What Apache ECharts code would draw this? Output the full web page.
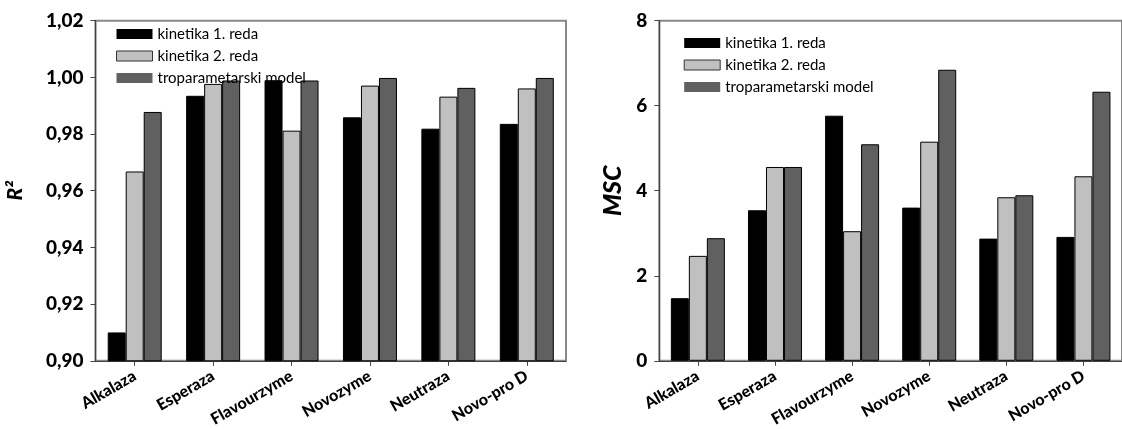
<!DOCTYPE html>
<html>
<head>
<meta charset="utf-8">
<style>
  html, body { margin: 0; padding: 0; background: #ffffff; }
  #chart { width: 1122px; height: 429px; }
</style>
<script src="https://cdn.jsdelivr.net/npm/echarts@6/dist/echarts.min.js"></script>
</head>
<body>
<div id="chart"></div>
<script>
// ---- data ----
const categories = ['Alkalaza', 'Esperaza', 'Flavourzyme', 'Novozyme', 'Neutraza', 'Novo-pro D'];
const seriesNames = ['kinetika 1. reda', 'kinetika 2. reda', 'troparametarski model'];

// R^2 values (left chart)
const r2First  = [0.910, 0.9935, 0.999, 0.9859, 0.9819, 0.9836];
const r2Second = [0.9668, 0.9977, 0.9812, 0.9971, 0.9932, 0.9961];
const r2Three  = [0.9878, 0.9989, 0.9989, 0.9998, 0.9963, 0.9998];

// MSC values (right chart)
const mscFirst  = [1.473, 3.541, 5.765, 3.603, 2.874, 2.914];
const mscSecond = [2.468, 4.559, 3.048, 5.154, 3.847, 4.340];
const mscThree  = [2.884, 4.559, 5.093, 6.846, 3.894, 6.329];

// y tick settings
const r2Min = 0.90, r2Max = 1.02, r2Step = 0.02;
const mscMin = 0, mscMax = 8, mscStep = 2;

// ---- styling ----
const colors = ['#000000', '#c0c0c0', '#606060'];
const FONT = 'Lato';

const chart = echarts.init(document.getElementById('chart'), null, { renderer: 'canvas' });

function xAxisFor(gi) {
  return {
    type: 'category',
    gridIndex: gi,
    data: categories,
    axisLine: { show: true, lineStyle: { color: '#444', width: 1.2 } },
    axisTick: { show: true, alignWithLabel: true, length: 5, lineStyle: { color: '#444' } },
    axisLabel: {
      rotate: 30, margin: 14, interval: 0,
      fontFamily: FONT, fontWeight: 900, fontSize: 16, color: '#000'
    },
    splitLine: { show: false }
  };
}

function yAxisFor(gi, min, max, step, name, nameGap, fmt, nameSize) {
  return {
    type: 'value',
    gridIndex: gi,
    min: min, max: max, interval: step,
    name: name,
    nameLocation: 'middle',
    nameGap: nameGap,
    nameRotate: 90,
    nameTextStyle: { fontFamily: FONT, fontWeight: 900, fontStyle: 'italic', fontSize: nameSize, color: '#000' },
    axisLine: { show: true, lineStyle: { color: '#444', width: 1.2 } },
    axisTick: { show: true, inside: false, length: 5, lineStyle: { color: '#444' } },
    axisLabel: {
      margin: 12,
      fontFamily: FONT, fontWeight: 900, fontSize: 19, color: '#000',
      formatter: fmt
    },
    splitLine: { show: false }
  };
}

function barSeries(name, data, idx, gi) {
  return {
    name: name,
    type: 'bar',
    xAxisIndex: gi,
    yAxisIndex: gi,
    data: data,
    barWidth: 18,
    barGap: '0%',
    itemStyle: { color: colors[idx], borderColor: '#000', borderWidth: 1 },
    emphasis: { disabled: true },
    animation: false
  };
}

function legendFor(left, top) {
  return {
    orient: 'vertical',
    left: left, top: top,
    itemWidth: 36, itemHeight: 10, itemGap: 6,
    icon: 'rect',
    textStyle: { fontFamily: FONT, fontSize: 15, color: '#000', lineHeight: 16 },
    data: [
      { name: seriesNames[0], itemStyle: { color: colors[0], borderWidth: 0 } },
      { name: seriesNames[1], itemStyle: { color: colors[1], borderColor: '#333', borderWidth: 1 } },
      { name: seriesNames[2], itemStyle: { color: colors[2], borderWidth: 0 } }
    ],
    selectedMode: false
  };
}

const option = {
  backgroundColor: '#ffffff',
  animation: false,
  grid: [
    { left: 95.5, top: 20.7, width: 470.5, height: 340.3, show: true, borderColor: '#888', borderWidth: 2, backgroundColor: 'transparent' },
    { left: 659.3, top: 20.7, width: 471, height: 340.3, show: true, borderColor: '#888', borderWidth: 2, backgroundColor: 'transparent' }
  ],
  legend: [
    legendFor(111, 21),
    legendFor(678.7, 30)
  ],
  xAxis: [xAxisFor(0), xAxisFor(1)],
  yAxis: [
    yAxisFor(0, r2Min, r2Max, r2Step, 'R²', 70, v => v.toFixed(2).replace('.', ','), 21),
    yAxisFor(1, mscMin, mscMax, mscStep, 'MSC', 34, v => String(v), 25)
  ],
  series: [
    barSeries(seriesNames[0], r2First, 0, 0),
    barSeries(seriesNames[1], r2Second, 1, 0),
    barSeries(seriesNames[2], r2Three, 2, 0),
    barSeries(seriesNames[0], mscFirst, 0, 1),
    barSeries(seriesNames[1], mscSecond, 1, 1),
    barSeries(seriesNames[2], mscThree, 2, 1)
  ]
};

chart.setOption(option);
</script>
</body>
</html>
